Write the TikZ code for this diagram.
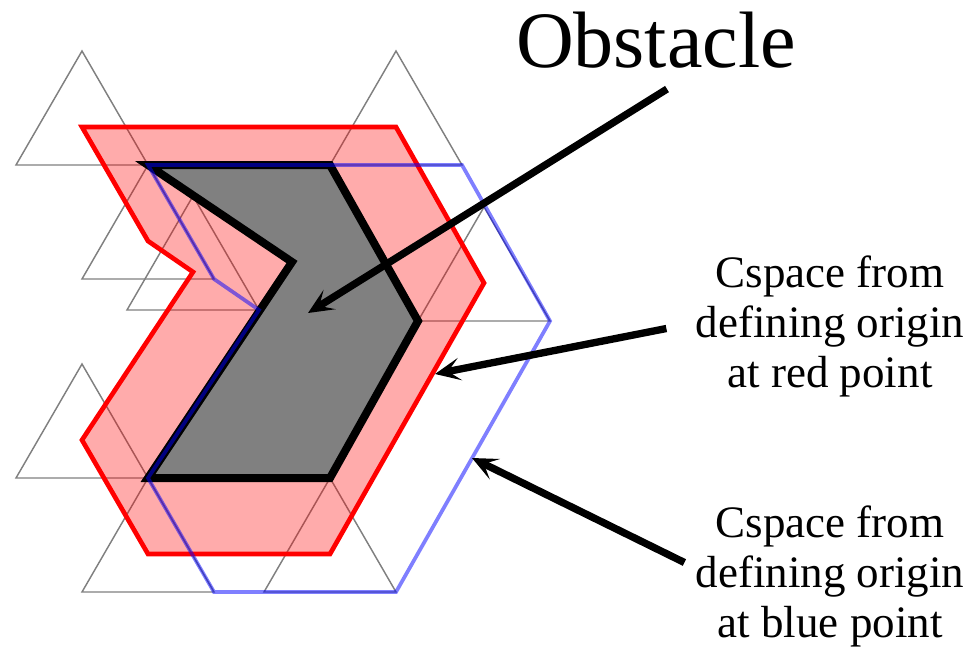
\documentclass[tikz,border=0pt]{standalone}
\usepackage{fontspec}
\setmainfont{Liberation Serif}
\usetikzlibrary{arrows.meta}
\tikzset{
  robot/.style={draw=black!50, line width=1.1pt},
  cspred/.style={draw=red, line width=3.5pt, fill=red, fill opacity=0.33,
    line join=miter},
  cspblue/.style={draw=blue, draw opacity=0.5, line width=2.8pt, line join=miter},
  obstaculo/.style={draw=black, fill=gray, line width=6pt, line join=miter},
  flecha/.style={-{Stealth[length=19pt, width=17pt, inset=9pt]}, line width=5.5pt},
  etiq/.style={font=\fontsize{33.75}{37.5}\selectfont, align=center, inner sep=0pt}
}

\begin{document}
\begin{tikzpicture}[x=0.75pt, y=-0.75pt]
  \useasboundingbox (0,0) rectangle (980,646);
  % obstacle corners
  \coordinate (o1) at (148,165);
  \coordinate (o2) at (330,165);
  \coordinate (o3) at (418,321);
  \coordinate (o4) at (330,478);
  \coordinate (o5) at (148,478);
  \coordinate (o6) at (292,262);
  % robot triangles (apex)
  \coordinate (t1) at (82,51);
  \coordinate (t2) at (396,51);
  \coordinate (t3) at (484,207);
  \coordinate (t4) at (148,165);
  \coordinate (t5) at (193,196);
  \coordinate (t6) at (82,364);
  \coordinate (t7) at (148,478);
  \coordinate (t8) at (330,478);
  \foreach \t in {t1,t2,t3,t4,t5,t6,t7,t8}
    \draw[robot] (\t) -- ++(66,114) -- ++(-132,0) -- cycle;
  % cspace, red point = centroid
  \draw[cspred] ([shift={(0,76)}]t1)
    \foreach \t in {t2,t3,t8,t7,t6,t5,t4} { -- ([shift={(0,76)}]\t) } -- cycle;
  \draw[obstaculo] (o1) -- (o2) -- (o3) -- (o4) -- (o5) -- (o6) -- cycle;
  % cspace, blue point = lower right corner
  \draw[cspblue] ([shift={(66,114)}]t1)
    \foreach \t in {t2,t3,t8,t7,t6,t5,t4} { -- ([shift={(66,114)}]\t) } -- cycle;
  % labels
  \node[font=\fontsize{60}{72}\selectfont, inner sep=0pt, anchor=base] (obst) at (656,67) {Obstacle};
  \node[etiq] (lblred) at (830,326.5) {Cspace from\\defining origin\\at red point};
  \node[etiq] (lblblue) at (830,576.5) {Cspace from\\defining origin\\at blue point};
  \coordinate (pobst) at (308,313);
  \coordinate (pred) at (435,374);
  \coordinate (pblue) at (472,458);
  \draw[flecha] ([shift={(11,21)}]obst.south) -- (pobst);
  \draw[flecha] ([shift={(-29,2)}]lblred.west) -- (pred);
  \draw[flecha] ([shift={(-11,-14)}]lblblue.west) -- (pblue);
\end{tikzpicture}
\end{document}
